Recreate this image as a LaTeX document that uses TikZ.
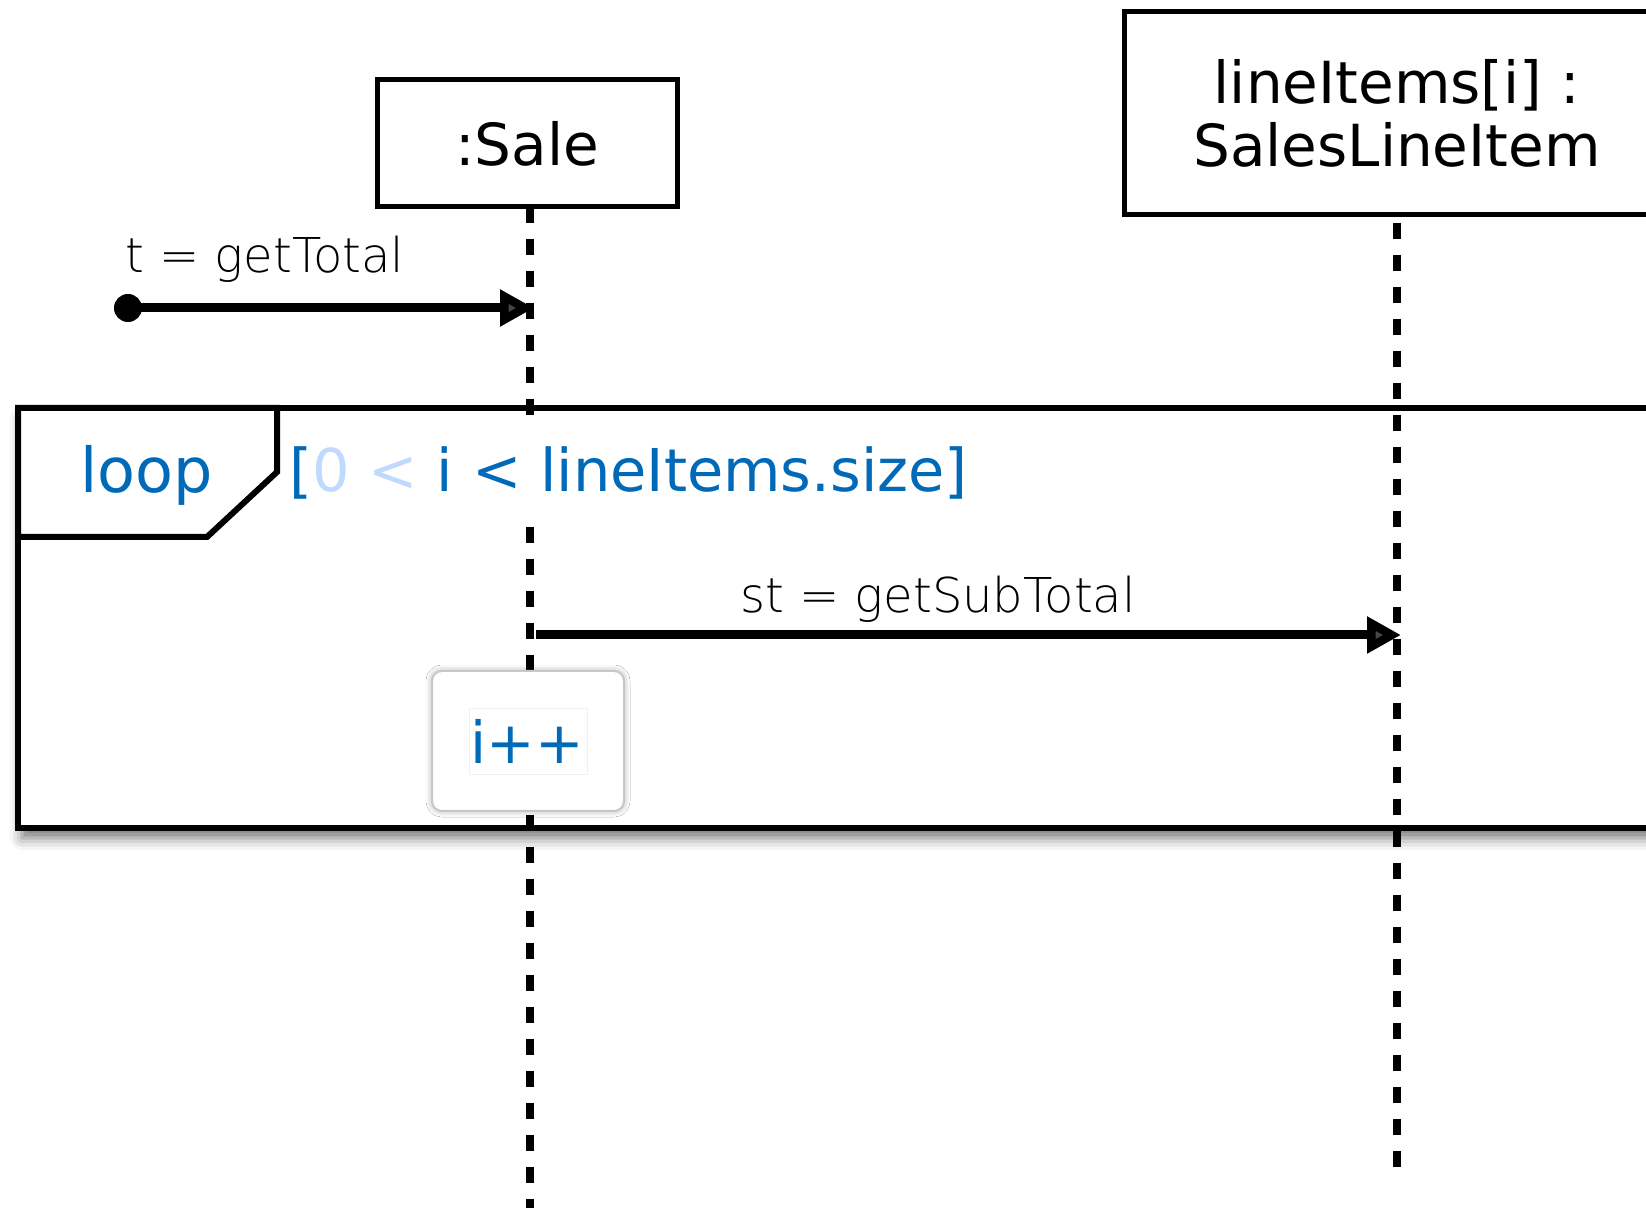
\documentclass[tikz,border=0pt]{standalone}
\usepackage{fontspec}
\setmainfont{DejaVu Sans}
\newfontfamily\lightfont{DejaVu Sans ExtraLight}
\usetikzlibrary{arrows.meta,shadows.blur}
\definecolor{umlblue}{RGB}{0,106,184}
\definecolor{selblue}{RGB}{192,218,255}
\begin{document}
\begin{tikzpicture}[x=0.5pt,y=-0.5pt,
  objbox/.style={draw=black, line width=2.5pt, fill=white, align=center,
    font=\fontsize{29pt}{31.5pt}\selectfont, inner sep=0pt},
  lifeline/.style={line width=4pt, dash pattern=on 8pt off 8pt},
  msg/.style={line width=4.5pt, -{Triangle[length=17pt,width=17.5pt]}},
  msglbl/.style={font=\lightfont\fontsize{24pt}{27pt}\selectfont, inner sep=0pt},
  framebox/.style={draw=black, line width=3pt, fill=white},
  bluetxt/.style={text=umlblue, font=\fontsize{29pt}{32pt}\selectfont, inner sep=0pt}
]
\useasboundingbox (0,0) rectangle (1646,1208);

% loop frame
\draw[framebox, blur shadow={shadow xshift=2pt, shadow yshift=-5pt, shadow blur radius=6pt, shadow opacity=55}]
  (18,408) rectangle (1680,828);

% lifelines
\node[objbox, minimum width=150pt, minimum height=63.5pt] (sale) at (527,143.5) {:Sale};
\node[objbox, minimum width=273pt, minimum height=101.5pt] (item) at (1397,113.5)
  {lineItems[i] :\\SalesLineItem};
\coordinate (saleTop) at (530,207);
\coordinate (saleBot) at (530,1208);
\coordinate (itemTop) at (1397,215);
\coordinate (itemBot) at (1397,1167);
\draw[lifeline] (saleTop) -- (saleBot);
\draw[lifeline, dash phase=12pt] (itemTop) -- (itemBot);

% loop tab
\draw[framebox, line join=miter] (18,408) -- (277,408) -- (277,472) -- (207,537) -- (18,537) -- cycle;
\node[bluetxt, anchor=base west, font=\fontsize{31pt}{34pt}\selectfont] (loop) at (80,493) {loop};
\node[bluetxt, anchor=base west, fill=white, inner xsep=2pt, inner ysep=11pt,
  font=\fontsize{29.5pt}{32pt}\selectfont] (guard) at (285,492)
  {[{\color{selblue}0 <} i < lineItems.size]};

% getTotal
\coordinate (start) at (128,308);
\fill (start) circle (7pt);
\draw[msg] (start) -- (534,308);
\node[msglbl, anchor=base west] (l1) at (125,273) {t = getTotal};

% getSubTotal
\coordinate (st0) at (536,635);
\coordinate (st1) at (1401,635);
\draw[msg] (st0) -- (st1);
\node[msglbl, anchor=base] (l2) at (938,613) {st = getSubTotal};

% i++ action
\node[draw=black!22, line width=1pt, fill=white, rounded corners=5pt,
  minimum width=96pt, minimum height=70pt,
  blur shadow={shadow xshift=0pt, shadow yshift=0pt, shadow blur radius=3pt, shadow opacity=35}] (act) at (528,741) {};
\node[draw=black!6, line width=0.5pt, fill=white, minimum width=59pt, minimum height=33pt] (inner) at (528,742) {};
\node[bluetxt, anchor=base, font=\fontsize{29pt}{31pt}\selectfont] (ipp) at (527,763) {i++};
\end{tikzpicture}
\end{document}
